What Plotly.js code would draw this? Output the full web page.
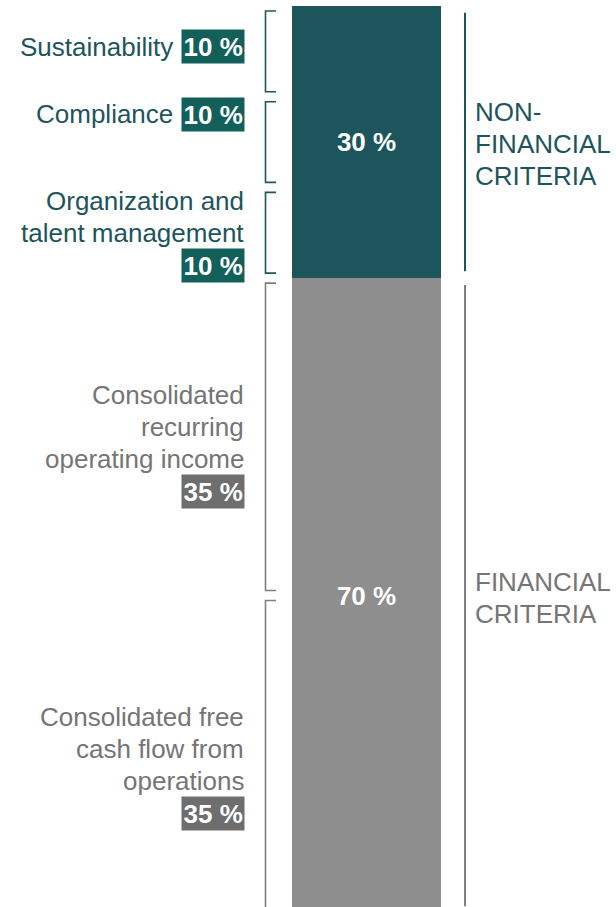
<!DOCTYPE html>
<html>
<head>
<meta charset="utf-8">
<script src="https://cdn.plot.ly/plotly-3.0.1.min.js"></script>
<style>
  html, body { margin: 0; padding: 0; background: #ffffff; }
  #chart { width: 616px; height: 907px; }
</style>
</head>
<body>
<div id="chart"></div>
<script>
// ---------- data ----------
const groupNames = [["NON-", "FINANCIAL", "CRITERIA"], ["FINANCIAL", "CRITERIA"]];
const groupTotals = [30, 70];
const subLabels = [
  ["Sustainability"],
  ["Compliance"],
  ["Organization and", "talent management"],
  ["Consolidated", "recurring", "operating income"],
  ["Consolidated free", "cash flow from", "operations"]
];
const subWeights = [10, 10, 10, 35, 35];
const subGroup = [0, 0, 0, 1, 1];

// ---------- styling / layout constants ----------
const W = 616, H = 907;
const topPx = 6, pxPerPct = 9.07;
const FONT = "Liberation Sans, Arial, sans-serif";
const barColors = ["#1D555C", "#8E8E8E"];
const textColors = ["#1D555C", "#757575"];
const badgeColors = ["#13605A", "#6E6E6E"];
const bracketColors = ["#1D555C", "#7F7F7F"];
const barX = 366.5, barW = 149;
const bracketX = 265.5, bracketTickX = 276;
const rightLineX = 465;
const rightTextX = 474;
const labelRight = 245;
const inlineTextRight = 174;
const lineStep = 32;
// first-line centre (px) of each left label, and whether the badge is inline
const labelTopPx = [47, 114, 201, 395, 717];
const badgeInline = [true, true, false, false, false];

const toPaper = p => 1 - p / H;

// ---------- traces ----------
const traces = [];
groupTotals.forEach((v, g) => {
  traces.push({
    type: "bar", x: [barX], y: [v], width: [barW],
    marker: { color: barColors[g], line: { width: 0 } },
    text: [v + " %"], textposition: "inside", insidetextanchor: "middle",
    textfont: { color: "#ffffff", size: 26, family: FONT, weight: "bold" },
    constraintext: "none",
    hoverinfo: "skip", showlegend: false
  });
});

// left brackets
let cum = 0;
const gapL = 0.55;
subWeights.forEach((w, i) => {
  const s = cum + gapL, e = cum + w - gapL;
  traces.push({
    type: "scatter", mode: "lines",
    x: [bracketTickX, bracketX, bracketX, bracketTickX],
    y: [s, s, e, e],
    line: { color: bracketColors[subGroup[i]], width: 1.6 },
    hoverinfo: "skip", showlegend: false
  });
  cum += w;
});

// right group lines
cum = 0;
const gapR = 0.75;
groupTotals.forEach((v, g) => {
  traces.push({
    type: "scatter", mode: "lines",
    x: [rightLineX, rightLineX],
    y: [cum + gapR, cum + v - gapR],
    line: { color: bracketColors[g], width: 2 },
    hoverinfo: "skip", showlegend: false
  });
  cum += v;
});

// ---------- annotations ----------
const annotations = [];
subLabels.forEach((lines, i) => {
  const g = subGroup[i];
  const y0 = labelTopPx[i];
  lines.forEach((ln, k) => {
    annotations.push({
      xref: "x", yref: "paper",
      x: badgeInline[i] ? inlineTextRight : labelRight,
      y: toPaper(y0 + k * lineStep),
      xanchor: "right", yanchor: "middle",
      text: ln, showarrow: false, borderpad: 0,
      font: { family: FONT, size: 26, color: textColors[g] }
    });
  });
  const by = badgeInline[i] ? y0 : y0 + lines.length * lineStep;
  annotations.push({
    xref: "x", yref: "paper",
    x: labelRight, y: toPaper(by),
    xanchor: "right", yanchor: "middle",
    text: subWeights[i] + " %", showarrow: false,
    bgcolor: badgeColors[g], borderpad: 1.5,
    font: { family: FONT, size: 26, color: "#ffffff", weight: "bold" }
  });
});

cum = 0;
groupTotals.forEach((v, g) => {
  const centerPx = topPx + (cum + v / 2) * pxPerPct;
  const lines = groupNames[g];
  lines.forEach((ln, k) => {
    const off = (k - (lines.length - 1) / 2) * lineStep;
    annotations.push({
      xref: "x", yref: "paper",
      x: rightTextX, y: toPaper(centerPx + off + 2),
      xanchor: "left", yanchor: "middle",
      text: ln, showarrow: false, borderpad: 0,
      font: { family: FONT, size: 26, color: textColors[g] }
    });
  });
  cum += v;
});

const layout = {
  width: W, height: H,
  margin: { l: 0, r: 0, t: 0, b: 0, pad: 0 },
  paper_bgcolor: "#ffffff", plot_bgcolor: "#ffffff",
  barmode: "stack",
  showlegend: false,
  xaxis: { range: [0, W], visible: false, fixedrange: true },
  yaxis: { range: [(H - topPx) / pxPerPct, -topPx / pxPerPct], visible: false, fixedrange: true },
  annotations: annotations,
  font: { family: FONT }
};

Plotly.newPlot("chart", traces, layout, { displayModeBar: false, staticPlot: true });
</script>
</body>
</html>
